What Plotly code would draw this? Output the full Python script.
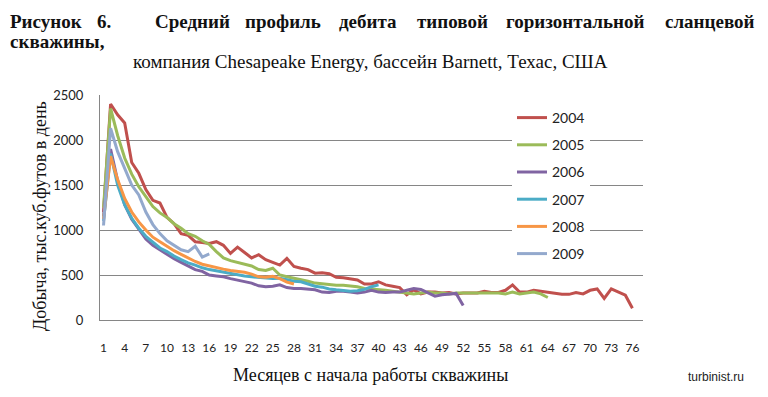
import plotly.graph_objects as go

y2004 = [1200, 2400, 2280, 2190, 1750, 1630, 1450, 1330, 1300, 1140,
         1070, 960, 940, 870, 860, 850, 870, 830, 740, 810,
         750, 690, 725, 670, 640, 610, 685, 595, 575, 560,
         520, 525, 515, 475, 470, 455, 445, 400, 400, 425,
         390, 375, 360, 280, 335, 290, 310, 310, 300, 305,
         290, 300, 300, 300, 320, 305, 305, 330, 390, 310,
         310, 330, 320, 310, 300, 285, 285, 305, 290, 330,
         345, 240, 345, 310, 275, 130]
y2005 = [1250, 2350, 2050, 1800, 1620, 1480, 1370, 1260, 1190, 1140,
         1070, 1020, 960, 930, 880, 840, 760, 690, 660, 640,
         620, 600, 560, 550, 575, 500, 480, 465, 450, 430,
         410, 400, 395, 385, 385, 380, 370, 350, 345, 340,
         330, 320, 310, 300, 290, 300, 310, 300, 300, 290,
         300, 300, 300, 295, 300, 300, 300, 290, 310, 290,
         300, 310, 290, 250]
y2006 = [1150, 1900, 1550, 1280, 1120, 1010, 900, 830, 780, 730,
         680, 640, 600, 560, 540, 500, 490, 480, 460, 445,
         430, 410, 380, 370, 375, 390, 360, 350, 350, 345,
         335, 310, 305, 320, 320, 310, 300, 310, 330, 310,
         305, 310, 310, 330, 350, 340, 300, 265, 280, 290,
         295, 160]
y2007 = [1100, 1850, 1500, 1280, 1130, 1020, 930, 860, 800, 760,
         710, 670, 635, 610, 580, 560, 545, 530, 515, 500,
         490, 480, 475, 465, 460, 465, 450, 430, 425, 400,
         375, 365, 345, 335, 325, 320, 325, 340, 370, 390]
y2008 = [1120, 1820, 1560, 1350, 1200, 1090, 1000, 920, 870, 820,
         770, 730, 690, 650, 620, 600, 580, 565, 550, 540,
         530, 510, 480, 475, 485, 460, 420, 400]
y2009 = [1050, 2130, 1870, 1680, 1500, 1390, 1200, 1060, 960, 880,
         830, 780, 760, 820, 700, 735]

series_names = ["2004", "2005", "2006", "2007", "2008", "2009"]
series_values = [y2004, y2005, y2006, y2007, y2008, y2009]
series_colors = ["#C0504D", "#9BBB59", "#8064A2", "#4BACC6", "#F79646", "#93A9CD"]

x_tick_vals = list(range(1, 77, 3))
y_tick_vals = [0, 500, 1000, 1500, 2000, 2500]

title_words = ["Рисунок", "6.", "Средний", "профиль", "дебита", "типовой",
               "горизонтальной", "сланцевой"]
title_word_x = [8, 104, 192, 283, 368, 452, 575, 757]

# page offset: the browser body has an 8px margin
OFF = 8
W, H = 768 - OFF, 397 - OFF
L, R, T, B = 100, 643, 95, 320   # plot area in page pixels


def px(x):
    return (x - L) / (R - L)


def py(y):
    return (B - y) / (B - T)


fig = go.Figure()
for name, vals, col in zip(series_names, series_values, series_colors):
    fig.add_trace(go.Scatter(
        x=list(range(1, len(vals) + 1)), y=vals, name=name, mode="lines",
        line=dict(color=col, width=3), legendgroup=name))

fig.update_layout(
    width=W, height=H, autosize=False,
    margin=dict(l=L - OFF, r=W - (R - OFF), t=T - OFF, b=H - (B - OFF)),
    paper_bgcolor="white", plot_bgcolor="white",
    showlegend=True,
    legend=dict(x=px(512), y=py(102), xanchor="left", yanchor="top",
                bgcolor="white", font=dict(family="Lato", size=14, color="#222"),
                tracegroupgap=6, itemwidth=30),
    xaxis=dict(range=[0.5, 77.5], tickvals=x_tick_vals, showgrid=False,
               showline=True, linecolor="#868686", linewidth=1, ticks="",
               tickfont=dict(family="Lato", size=12, color="#222"),
               ticklabelstandoff=17, zeroline=False),
    yaxis=dict(range=[0, 2500], tickvals=y_tick_vals, showgrid=True,
               gridcolor="#868686", gridwidth=1, showline=True,
               linecolor="#868686", linewidth=1, ticks="",
               tickfont=dict(family="Lato", size=13, color="#222"),
               ticklabelstandoff=13, zeroline=False),
)

serif = "Liberation Serif"
ann = []
n = len(title_words)
for i, (w, xp) in enumerate(zip(title_words, title_word_x)):
    anchor = "left" if i == 0 else ("right" if i == n - 1 else "center")
    ann.append(dict(text="<b>" + w + "</b>", x=px(xp), y=py(22), xref="paper", yref="paper",
                    xanchor=anchor, yanchor="middle", showarrow=False,
                    font=dict(family=serif, size=19, color="#111")))
ann.append(dict(text="<b>скважины,</b>", x=px(8), y=py(41), xref="paper", yref="paper",
                xanchor="left", yanchor="middle", showarrow=False,
                font=dict(family=serif, size=19, color="#111")))
ann.append(dict(text="компания Chesapeake Energy, бассейн Barnett, Техас, США",
                x=px(370), y=py(62), xref="paper", yref="paper",
                xanchor="center", yanchor="middle", showarrow=False,
                font=dict(family=serif, size=19, color="#111")))
ann.append(dict(text="Добыча, тыс.куб.футов в день", x=px(40), y=py(216),
                xref="paper", yref="paper", textangle=-90,
                xanchor="center", yanchor="middle", showarrow=False,
                font=dict(family=serif, size=18, color="#111")))
ann.append(dict(text="Месяцев с начала работы скважины", x=px(370), y=py(375),
                xref="paper", yref="paper", xanchor="center", yanchor="middle",
                showarrow=False,
                font=dict(family=serif, size=18, color="#111")))
ann.append(dict(text="turbinist.ru", x=px(716), y=py(377),
                xref="paper", yref="paper", xanchor="center", yanchor="middle",
                showarrow=False,
                font=dict(family="Liberation Sans", size=12, color="#222")))
fig.update_layout(annotations=ann)

fig.write_html("out.html")
